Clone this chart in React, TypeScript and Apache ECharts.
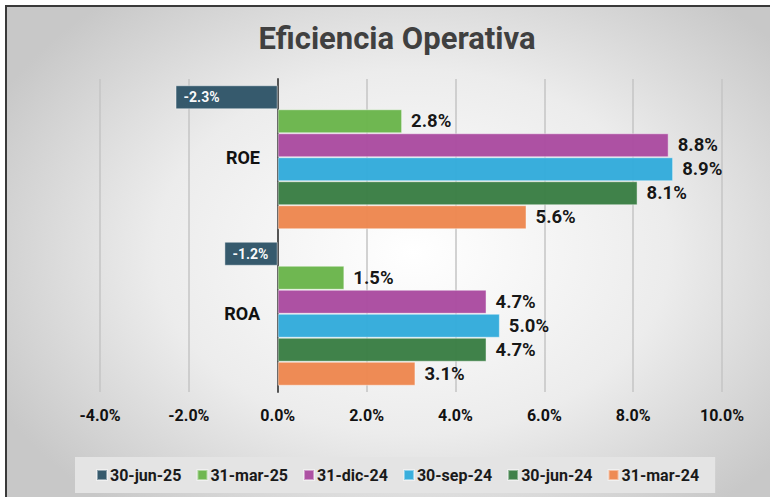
import React, { useEffect, useRef } from "react";
import * as echarts from "echarts";

const categories = ["ROE", "ROA"];
const seriesNames = ["30-jun-25", "31-mar-25", "31-dic-24", "30-sep-24", "30-jun-24", "31-mar-24"];
const roeValues = [-2.3, 2.8, 8.8, 8.9, 8.1, 5.6];
const roaValues = [-1.2, 1.5, 4.7, 5.0, 4.7, 3.1];
const colors = ["#2F5568", "#6AB54B", "#AA4BA0", "#33ABDB", "#3A7E44", "#ED874F"];
const xTicks = { min: -4, max: 10, interval: 2 };

const FONT = "Roboto, 'Liberation Sans', sans-serif";

export default function App() {
  const ref = useRef<HTMLDivElement>(null);
  useEffect(() => {
    if (!ref.current) return;
    const chart = echarts.init(ref.current, undefined, { renderer: "svg" });
    const series = seriesNames.map((name, i) => ({
      name,
      type: "bar",
      barGap: "0%",
      barCategoryGap: "8%",
      data: [roeValues[i], roaValues[i]],
      itemStyle: {
        color: colors[i],
        opacity: 0.97,
        borderColor: "rgba(255,255,255,0.45)",
        borderWidth: 1,
      },
      label: {
        show: true,
        position: roeValues[i] < 0 ? "insideLeft" : "right",
        distance: roeValues[i] < 0 ? 8 : 9,
        formatter: (p: any) => p.value.toFixed(1) + "%",
        fontFamily: FONT,
        fontWeight: "bold",
        fontSize: roeValues[i] < 0 ? 14 : 18.5,
        color: roeValues[i] < 0 ? "#ffffff" : "#111111",
      },
    }));
    chart.setOption({
      animation: false,
      backgroundColor: "transparent",
      title: {
        text: "Eficiencia Operativa",
        left: 392,
        textAlign: "center",
        top: 18,
        textStyle: { fontFamily: FONT, fontWeight: "bold", fontSize: 31, color: "#404040" },
      },
      grid: { left: 100, right: 48, top: 79, bottom: 105, containLabel: false },
      xAxis: {
        type: "value",
        min: xTicks.min,
        max: xTicks.max,
        interval: xTicks.interval,
        axisLine: { show: false },
        axisTick: { show: false },
        splitLine: { show: true, lineStyle: { color: "#c4c4c4", width: 1.5 } },
        axisLabel: {
          margin: 15,
          formatter: (v: number) => v.toFixed(1) + "%",
          fontFamily: FONT,
          fontWeight: "bold",
          fontSize: 16,
          color: "#111111",
        },
      },
      yAxis: {
        type: "category",
        data: categories,
        inverse: true,
        axisLine: { show: true, onZero: true, lineStyle: { color: "#555555", width: 2 } },
        axisTick: { show: false },
        axisLabel: {
          margin: -160,
          fontFamily: FONT,
          fontWeight: "bold",
          fontSize: 18,
          color: "#111111",
        },
      },
      legend: {
        data: seriesNames,
        left: 75,
        top: 457,
        padding: [10, 16, 10, 21],
        backgroundColor: "#e4e4e4",
        icon: "rect",
        itemWidth: 10,
        itemHeight: 10,
        itemGap: 15,
        textStyle: { fontFamily: FONT, fontWeight: "bold", fontSize: 16, color: "#1a1a1a", padding: [0, 0, 0, -2] },
      },
      series,
    });
    return () => chart.dispose();
  }, []);
  return (
    <div style={{ position: "fixed", left: 0, top: 0, width: 770, height: 497, background: "#ffffff" }}>
      <div
        style={{
          position: "absolute",
          left: 5,
          top: 5,
          width: 780,
          height: 510,
          borderLeft: "2px solid #3a3a3a",
          borderTop: "2px solid #3a3a3a",
          background: "radial-gradient(ellipse 60% 65% at 52% 48%, #ffffff 0%, #ececec 55%, #c8c8c8 100%)",
        }}
      />
      <div ref={ref} style={{ position: "absolute", left: 0, top: 0, width: 770, height: 497 }} />
    </div>
  );
}
